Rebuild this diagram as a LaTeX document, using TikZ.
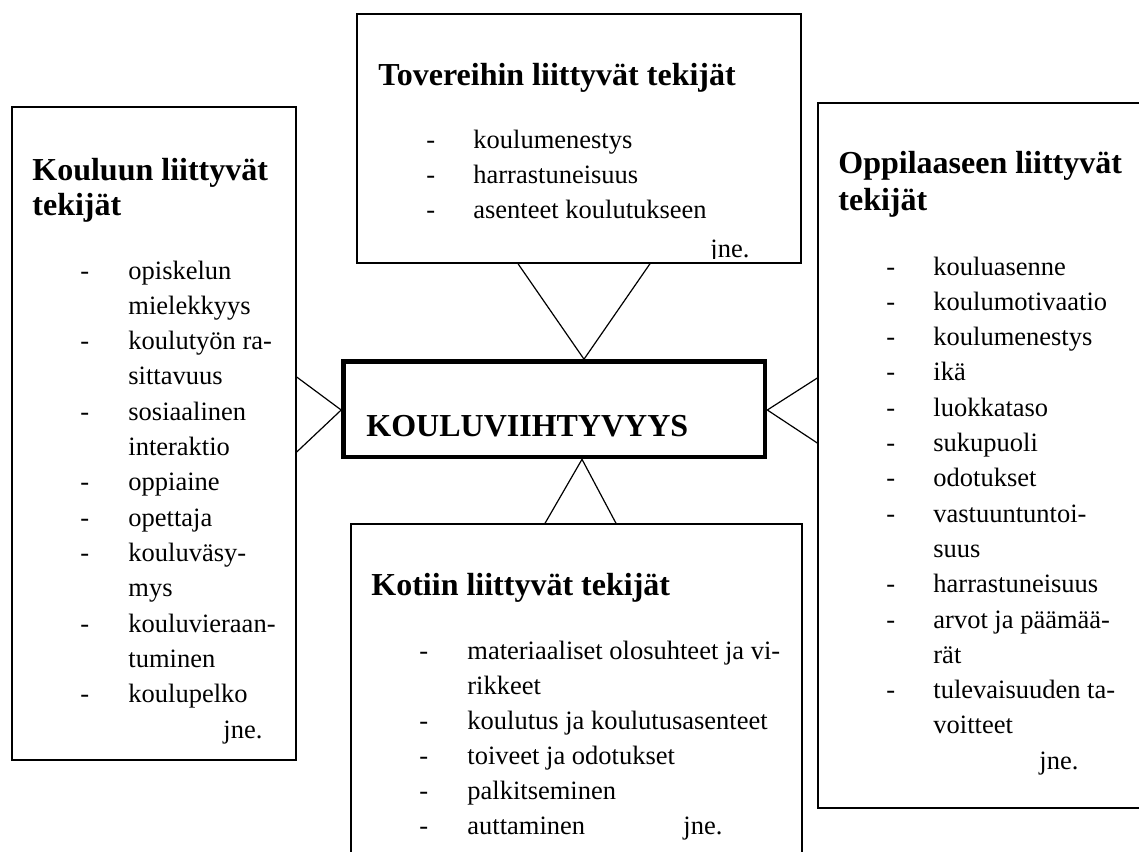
\documentclass[tikz,border=0pt]{standalone}
\usepackage{fontspec}
\setmainfont{Liberation Serif}
\usetikzlibrary{fit}
\tikzset{
  factorbox/.style={draw=black,line width=0.7pt,inner sep=0pt},
  corebox/.style={draw=black,line width=2.3pt,inner sep=0pt},
  heading/.style={anchor=base west,inner sep=0pt,font=\fontsize{16}{18}\selectfont\bfseries},
  entry/.style={anchor=base west,inner sep=0pt,font=\fontsize{13.25}{16}\selectfont},
  link/.style={draw=black,line width=0.6pt}
}

\begin{document}
\begin{tikzpicture}[x=0.5pt,y=-0.5pt]
  \useasboundingbox (0,0) rectangle (1139,851);
  \clip (0,0) rectangle (1139,851);
  % boxes
  \node[factorbox,fit={(12,107) (296,760)}] (school) {};
  \node[factorbox,fit={(357,14) (801,263)}] (peers) {};
  \node[factorbox,fit={(818,103) (1170,808)}] (pupil) {};
  \node[factorbox,fit={(351,524) (802,900)}] (home) {};
  \node[corebox,fit={(343.5,361.5) (765,457)}] (core) {};
  \node[heading] (coretext) at (366,436) {KOULUVIIHTYVYYS};

  % school
  \node[heading] (schoolhead1) at (32,180) {Kouluun liittyvät};
  \node[heading] (schoolhead2) at (32,215) {tekijät};
  \foreach \d/\t [count=\i from 0] in {-/opiskelun,/mielekkyys,-/koulutyön ra-,/sittavuus,
      -/sosiaalinen,/interaktio,-/oppiaine,-/opettaja,-/kouluväsy-,/mys,
      -/kouluvieraan-,/tuminen,-/koulupelko}{
    \node[entry] (schooldash\i) at (80,{279+35.3*\i}) {\d};
    \node[entry] (schoolitem\i) at (128,{279+35.3*\i}) {\t};
  }
  \node[entry] (schooletc) at (223,738) {jne.};

  % peers
  \node[heading] (peershead) at (378,85) {Tovereihin liittyvät tekijät};
  \foreach \t [count=\i from 0] in {koulumenestys,harrastuneisuus,asenteet koulutukseen}{
    \node[entry] (peersdash\i) at (426,{148+35*\i}) {-};
    \node[entry] (peersitem\i) at (473,{148+35*\i}) {\t};
  }
  \begin{scope}
    \clip (357,14) rectangle (801,258);
    \node[entry] (peersetc) at (710,257) {jne.};
  \end{scope}

  % pupil
  \node[heading] (pupilhead1) at (838,173) {Oppilaaseen liittyvät};
  \node[heading] (pupilhead2) at (838,210) {tekijät};
  \foreach \d/\t [count=\i from 0] in {-/kouluasenne,-/koulumotivaatio,-/koulumenestys,-/ikä,
      -/luokkataso,-/sukupuoli,-/odotukset,-/vastuuntuntoi-,/suus,-/harrastuneisuus,
      -/arvot ja päämää-,/rät,-/tulevaisuuden ta-,/voitteet}{
    \node[entry] (pupildash\i) at (886,{275+35.3*\i}) {\d};
    \node[entry] (pupilitem\i) at (933,{275+35.3*\i}) {\t};
  }
  \node[entry] (pupiletc) at (1039,769) {jne.};

  % home
  \node[heading] (homehead) at (371,595) {Kotiin liittyvät tekijät};
  \foreach \d/\t [count=\i from 0] in {-/materiaaliset olosuhteet ja vi-,/rikkeet,
      -/koulutus ja koulutusasenteet,-/toiveet ja odotukset,-/palkitseminen,-/auttaminen}{
    \node[entry] (homedash\i) at (419,{659+35*\i}) {\d};
    \node[entry] (homeitem\i) at (467,{659+35*\i}) {\t};
  }
  \node[entry] (homeetc) at (683,834) {jne.};

  % connectors
  \draw[link] (peers.south -| 518,0) -- (core.north -| 584,0) -- (peers.south -| 650,0);
  \draw[link] (home.north -| 545,0) -- (core.south -| 582,0) -- (home.north -| 616,0);
  \draw[link] (school.east |- 0,377) -- (core.west |- 0,410) -- (school.east |- 0,452);
  \draw[link] (pupil.west |- 0,378) -- (core.east |- 0,410) -- (pupil.west |- 0,443);
\end{tikzpicture}
\end{document}
